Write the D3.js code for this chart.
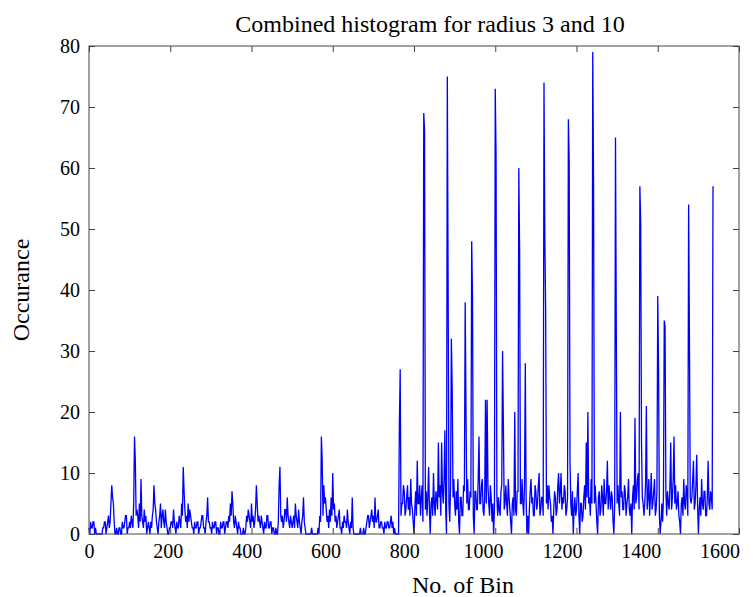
<!DOCTYPE html>
<html>
<head>
<meta charset="utf-8">
<script src="https://cdn.jsdelivr.net/npm/d3@7/dist/d3.min.js"></script>
<style>
  body { margin: 0; background: #fff; }
  #chart svg text { font-family: "Liberation Serif", "Times New Roman", serif; fill: #000; }
</style>
</head>
<body>
<div id="chart"></div>
<script>
// occurance per bin, one value every 2 bins (bins 0..1536), one row = 100 bins
const BIN_STEP = 2;
const occurance = [
  1,0,2,1,1,2,2,0,1,0,0,0,0,0,0,0,0,1,1,2,2,0,1,2,3,1,2,5,8,6,5,2,0,0,1,0,0,1,1,0,0,2,1,1,2,3,3,0,1,1,
  2,1,3,2,1,5,16,12,3,4,3,1,5,2,9,3,2,1,4,2,3,0,1,2,1,0,2,1,3,4,8,5,4,2,1,0,2,3,5,1,3,4,2,1,4,2,1,0,0,1,
  1,2,2,1,4,2,1,0,2,1,1,3,2,1,5,3,11,7,4,2,3,1,5,2,4,3,2,1,1,0,2,1,1,2,2,0,1,1,2,3,3,1,1,0,2,3,6,2,2,1,
  1,0,2,1,1,2,2,0,1,1,0,0,2,1,1,2,2,0,1,2,2,1,3,2,5,3,7,5,2,1,3,2,1,0,2,1,1,0,0,0,1,0,0,1,3,2,4,3,2,1,
  5,2,3,1,2,4,8,5,2,3,2,1,3,2,1,0,2,1,1,3,3,1,1,2,2,0,1,1,0,0,1,0,0,2,8,11,3,2,3,1,2,4,4,2,6,3,2,1,3,2,
  1,2,3,1,5,3,2,1,4,2,1,0,2,3,6,2,1,0,0,0,0,0,0,0,1,0,0,0,0,0,0,0,1,0,3,2,16,12,3,8,5,6,4,2,3,1,4,2,6,3,
  10,4,5,2,3,1,2,3,4,1,1,0,2,1,3,2,2,1,4,2,1,0,2,1,6,1,0,0,0,0,0,0,0,0,1,0,0,0,1,0,0,1,2,3,3,1,2,3,4,2,
  3,1,6,2,2,3,4,1,1,2,2,1,1,0,2,1,1,2,2,1,1,2,3,1,2,0,1,0,0,0,0,0,18,27,3,5,5,8,7,3,4,6,8,4,6,3,9,5,4,2,
  0,4,7,3,12,5,5,8,3,6,8,2,69,66,4,7,3,6,11,4,0,5,6,3,10,5,3,7,6,4,15,6,8,3,15,7,5,9,17,4,0,75,41,5,2,8,32,24,6,9,
  5,3,7,4,9,2,0,6,6,3,3,8,7,38,20,5,9,4,4,7,6,48,39,3,0,7,7,4,4,9,16,5,5,8,9,4,3,6,22,5,22,8,5,3,8,6,2,5,0,4,
  73,62,6,3,6,4,3,7,8,30,18,4,5,8,5,3,9,6,4,2,0,5,6,3,20,4,3,7,7,60,46,5,5,9,5,3,8,28,6,0,3,0,4,7,9,5,6,3,3,8,
  7,4,5,8,10,3,4,6,6,3,74,49,37,5,8,4,8,6,5,2,3,0,4,7,6,3,4,8,10,5,7,10,4,6,5,8,7,3,4,6,68,61,12,5,3,7,0,4,6,3,
  4,7,10,3,0,5,5,2,3,6,8,4,15,6,20,5,6,3,9,5,79,57,5,8,5,2,0,6,7,3,4,8,6,3,9,5,5,7,12,4,8,6,4,7,6,2,0,5,65,33,
  5,8,5,3,20,6,7,4,4,8,7,3,5,6,9,4,3,5,0,6,8,4,19,5,6,9,10,4,57,51,15,6,5,3,5,8,21,4,6,9,3,6,10,4,5,7,9,3,4,7,
  39,27,3,0,2,5,2,6,35,34,7,3,7,5,4,8,15,4,6,9,16,5,8,4,5,7,3,2,0,5,6,3,9,5,4,8,7,3,54,32,6,5,6,9,12,4,5,8,13,5,
  0,4,6,3,9,5,4,7,7,3,3,6,12,5,4,7,6,4,57
];

const xTicks = [0, 200, 400, 600, 800, 1000, 1200, 1400, 1600];
const yTicks = [0, 10, 20, 30, 40, 50, 60, 70, 80];
const chartTitle = "Combined histogram for radius 3 and 10";
const xTitle = "No. of Bin";
const yTitle = "Occurance";

const W = 753, H = 597;
const margin = { top: 46, right: 14, bottom: 63, left: 89 };
const width = W - margin.left - margin.right;
const height = H - margin.top - margin.bottom;

const data = occurance.map((v, i) => ({ bin: i * BIN_STEP, value: v }));

const svg = d3.select("#chart").append("svg")
  .attr("width", W)
  .attr("height", H);

const g = svg.append("g").attr("transform", `translate(${margin.left},${margin.top})`);

const x = d3.scaleLinear().domain([0, 1600]).range([0, width]);
const y = d3.scaleLinear().domain([0, 80]).range([height, 0]);

const line = d3.line()
  .x(d => x(d.bin))
  .y(d => y(d.value));

g.append("path")
  .datum(data)
  .attr("fill", "none")
  .attr("stroke", "#0000ff")
  .attr("stroke-width", 1.3)
  .attr("d", line);

// axes, ticks pointing inward (matlab style)
const tickLen = 6;
const axisColor = "#444";

g.append("g").attr("transform", `translate(0,${height})`)
  .call(d3.axisBottom(x).tickValues(xTicks).tickSize(-tickLen).tickPadding(10)
    .tickSizeOuter(0).tickFormat(d3.format("d")))
  .selectAll(".tick text")
  .attr("dx", d => -x(d) * 0.03);
g.append("g")
  .call(d3.axisLeft(y).tickValues(yTicks).tickSize(-tickLen).tickPadding(9).tickSizeOuter(0));
g.append("g")
  .call(d3.axisTop(x).tickValues(xTicks).tickSize(-tickLen).tickFormat("").tickSizeOuter(0));
g.append("g").attr("transform", `translate(${width},0)`)
  .call(d3.axisRight(y).tickValues(yTicks).tickSize(-tickLen).tickFormat("").tickSizeOuter(0));

g.selectAll(".domain").remove();
g.selectAll(".tick line").attr("stroke", axisColor);
g.selectAll(".tick text").style("font-size", "20px");

g.append("rect")
  .attr("width", width)
  .attr("height", height)
  .attr("fill", "none")
  .attr("stroke", axisColor)
  .attr("stroke-width", 1);

// titles
svg.append("text")
  .attr("x", 430)
  .attr("y", 32)
  .attr("text-anchor", "middle")
  .style("font-size", "24px")
  .text(chartTitle);

svg.append("text")
  .attr("x", 463)
  .attr("y", 593)
  .attr("text-anchor", "middle")
  .style("font-size", "24px")
  .text(xTitle);

svg.append("text")
  .attr("transform", "translate(29,290) rotate(-90)")
  .attr("text-anchor", "middle")
  .style("font-size", "24px")
  .text(yTitle);
</script>
</body>
</html>
